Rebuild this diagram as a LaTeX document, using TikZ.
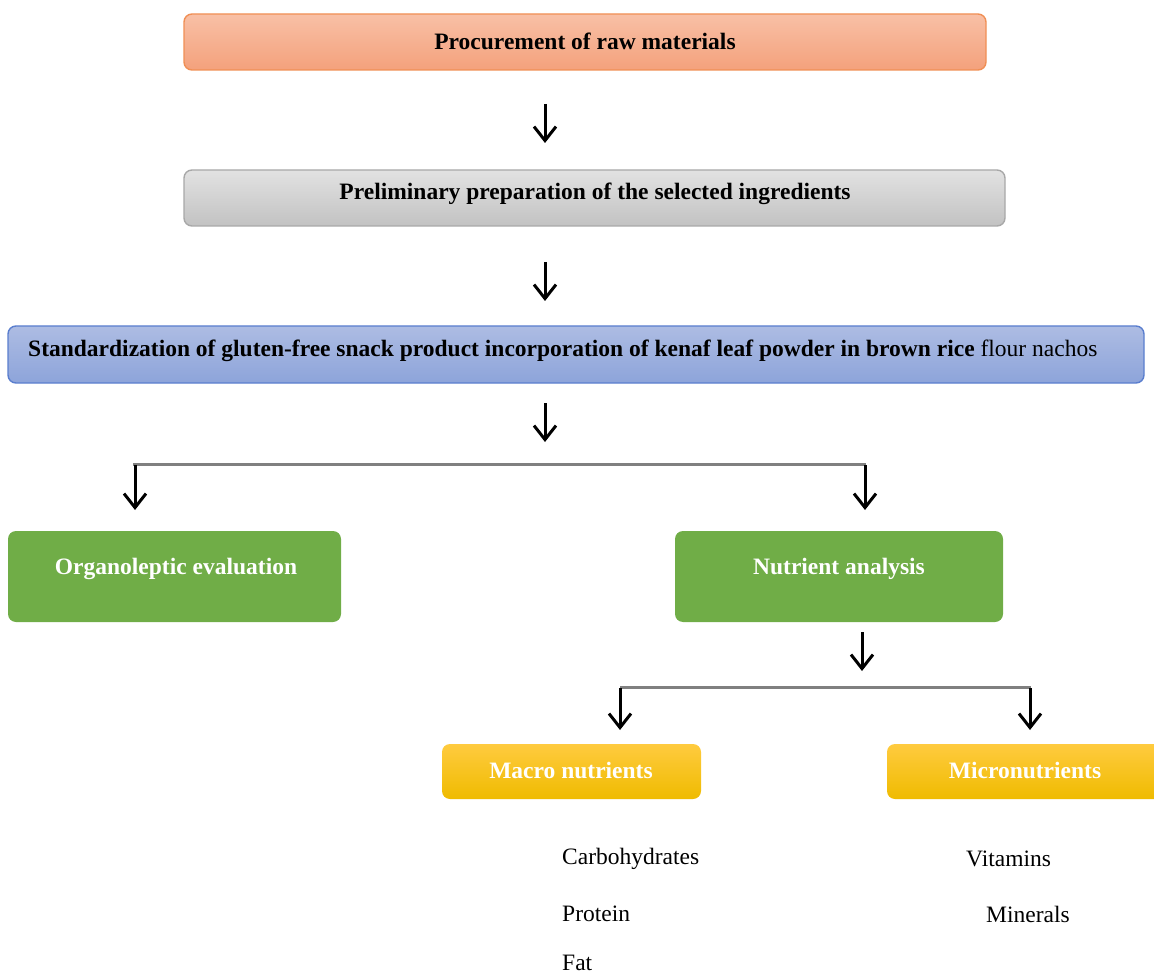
\documentclass[tikz,border=0pt]{standalone}
\usepackage{fontspec}
\setmainfont{Liberation Serif}
\usetikzlibrary{arrows.meta}
\definecolor{orgtop}{HTML}{F8C0A6}
\definecolor{orgbot}{HTML}{F4A17C}
\definecolor{orgbrd}{HTML}{F08F55}
\definecolor{grytop}{HTML}{E2E2E2}
\definecolor{grybot}{HTML}{C2C2C2}
\definecolor{grybrd}{HTML}{A8A8A8}
\definecolor{blutop}{HTML}{ADBCE3}
\definecolor{blubot}{HTML}{8DA4DA}
\definecolor{blubrd}{HTML}{5A7ECE}
\definecolor{grn}{HTML}{70AD47}
\definecolor{ylwtop}{HTML}{FFCB3F}
\definecolor{ylwbot}{HTML}{EFBB00}
\definecolor{linegray}{HTML}{808080}
\tikzset{
  box/.style={rounded corners=8pt, minimum width=#1, inner sep=0pt},
  txt/.style={font=\fontsize{23.5}{28}\selectfont, inner sep=0pt},
  btxt/.style={font=\fontsize{23.5}{28}\selectfont\bfseries, inner sep=0pt},
  wtxt/.style={font=\fontsize{23.5}{28}\selectfont\bfseries, text=white, inner sep=0pt},
  arr/.style={-{Straight Barb[length=14pt,width=22pt,line width=3pt]}, line width=3pt, black},
  hline/.style={line width=3pt, linegray},
}
\begin{document}
\begin{tikzpicture}[x=1pt,y=-1pt]
\useasboundingbox (0,0) rectangle (1154,976);
\clip (0,0) rectangle (1154,976);
% box 1
\node[box=802pt, minimum height=56pt, draw=orgbrd, line width=1.4pt, top color=orgtop, bottom color=orgbot] (b1) at (585,42) {};
\node[btxt] (t1) at (585,41) {Procurement of raw materials};
% box 2
\node[box=821pt, minimum height=56pt, draw=grybrd, line width=1.4pt, top color=grytop, bottom color=grybot] (b2) at (594.5,198) {};
\node[btxt] (t2) at (595,194) {Preliminary preparation of the selected ingredients};
% box 3
\node[box=1136pt, minimum height=57pt, draw=blubrd, line width=1.4pt, top color=blutop, bottom color=blubot] (b3) at (576,354.5) {};
\node[txt, anchor=west] (t3) at (28,351) {\bfseries Standardization of gluten-free snack product incorporation of kenaf leaf powder in brown rice\mdseries{} flour nachos};
% arrows
\coordinate (a1s) at (545,104); \coordinate (a1e) at (545,143);
\coordinate (a2s) at (545,262); \coordinate (a2e) at (545,301);
\coordinate (a3s) at (545,403); \coordinate (a3e) at (545,442);
\draw[arr] (a1s) -- (a1e);
\draw[arr] (a2s) -- (a2e);
\draw[arr] (a3s) -- (a3e);
% branch 1
\coordinate (h1l) at (133,464); \coordinate (h1r) at (866,464);
\draw[hline] (h1l) -- (h1r);
\coordinate (a4s) at (135,465); \coordinate (a4e) at (135,510);
\coordinate (a5s) at (865,465); \coordinate (a5e) at (865,510);
\draw[arr] (a4s) -- (a4e);
\draw[arr] (a5s) -- (a5e);
% green boxes
\node[box=333pt, minimum height=91pt, fill=grn] (g1) at (174.5,576.5) {};
\node[wtxt] (gt1) at (176,569) {Organoleptic evaluation};
\node[box=328pt, minimum height=91pt, fill=grn] (g2) at (839,576.5) {};
\node[wtxt] (gt2) at (839,569) {Nutrient analysis};
% arrow below nutrient
\coordinate (a6s) at (862,632); \coordinate (a6e) at (862,671);
\draw[arr] (a6s) -- (a6e);
% branch 2
\coordinate (h2l) at (620,687); \coordinate (h2r) at (1031,687);
\draw[hline] (h2l) -- (h2r);
\coordinate (a7s) at (620,688); \coordinate (a7e) at (620,730);
\coordinate (a8s) at (1030,688); \coordinate (a8e) at (1030,730);
\draw[arr] (a7s) -- (a7e);
\draw[arr] (a8s) -- (a8e);
% yellow boxes
\node[box=259pt, minimum height=55pt, top color=ylwtop, bottom color=ylwbot] (y1) at (571.5,771.5) {};
\node[wtxt] (yt1) at (571,770) {Macro nutrients};
\node[box=290pt, minimum height=55pt, top color=ylwtop, bottom color=ylwbot] (y2) at (1032,771.5) {};
\node[wtxt] (yt2) at (1025,770) {Micronutrients};
% lists
\node[txt, anchor=west] (l1) at (562,859) {Carbohydrates};
\node[txt, anchor=west] (l2) at (562,914) {Protein};
\node[txt, anchor=west] (l3) at (562,963) {Fat};
\node[txt, anchor=west] (l4) at (966,859) {Vitamins};
\node[txt, anchor=west] (l5) at (986,914) {Minerals};
\end{tikzpicture}
\end{document}
